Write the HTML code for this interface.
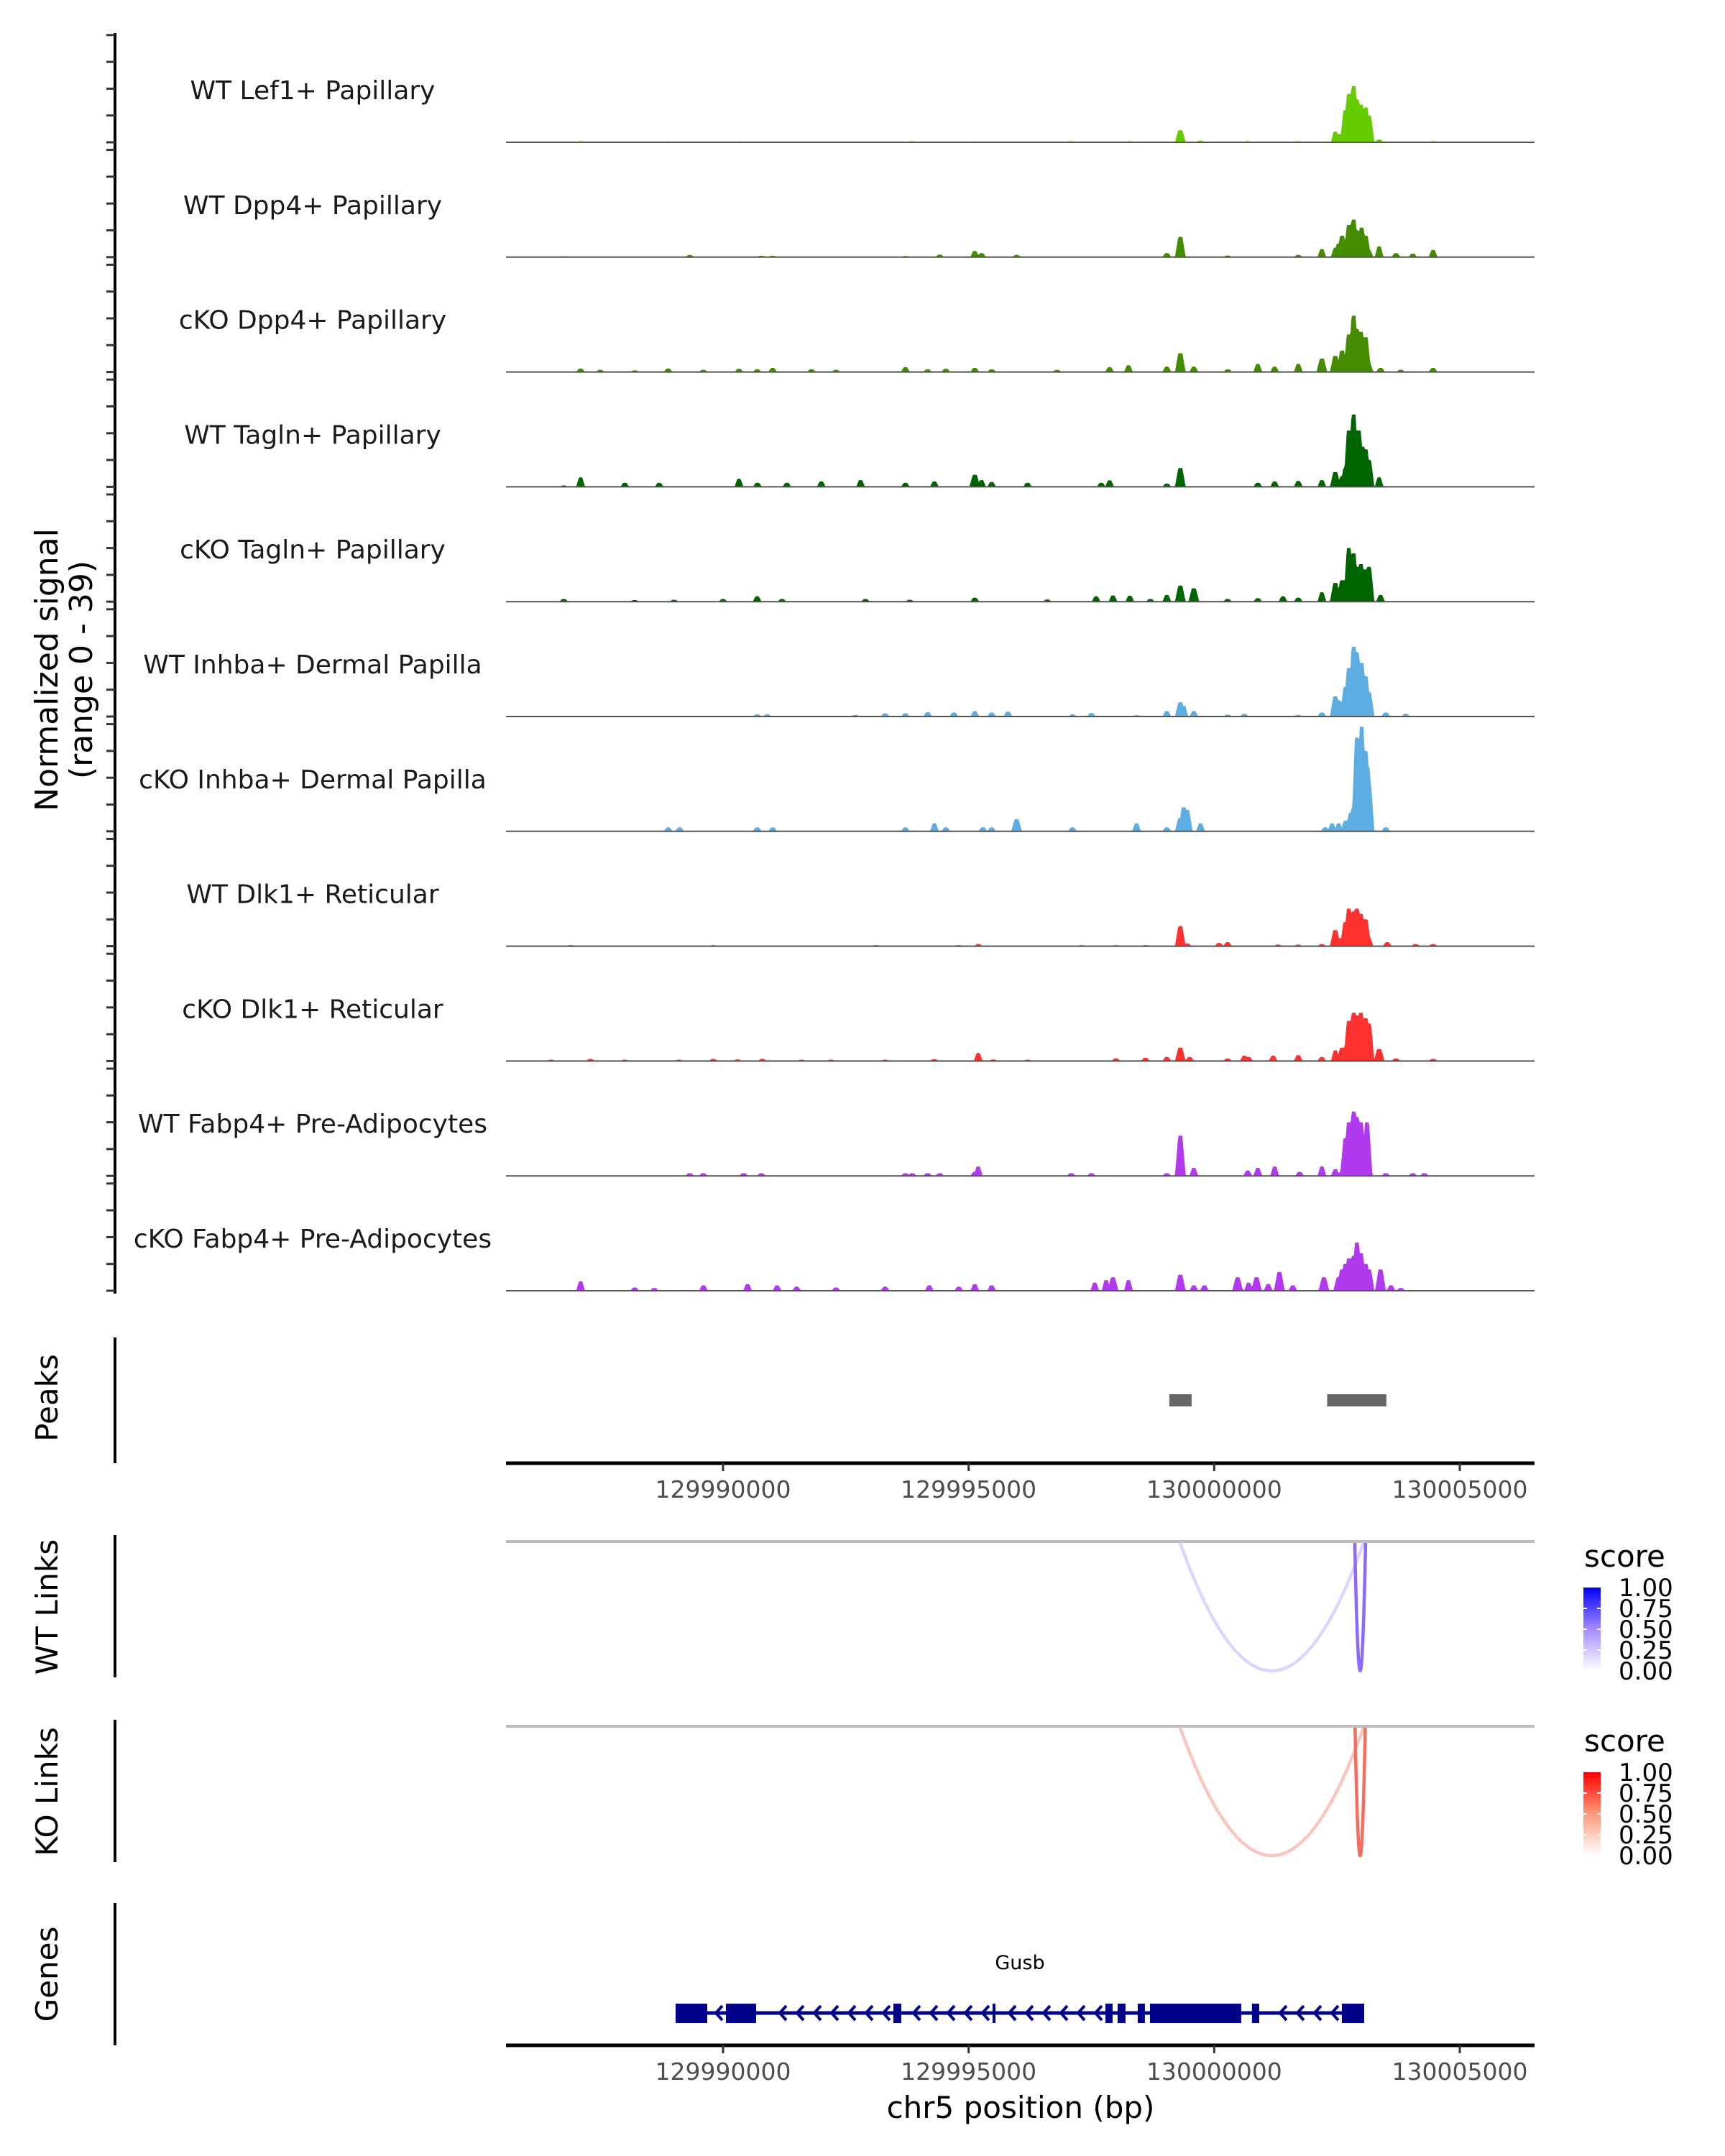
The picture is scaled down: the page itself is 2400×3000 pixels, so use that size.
<!DOCTYPE html>
<html><head><meta charset="utf-8"><style>
html,body{margin:0;padding:0;background:#fff}
svg{display:block;font-family:"DejaVu Sans","Liberation Sans",sans-serif}
</style></head><body>
<svg id="chart" width="2400" height="3000" viewBox="0 0 2400 3000" xmlns="http://www.w3.org/2000/svg">
<rect width="2400" height="3000" fill="#fff"/>
<g id="tracks"></g>
<g id="yaxis"></g>
<text transform="translate(80,932) rotate(-90)" text-anchor="middle" font-size="44" fill="#000">Normalized signal</text>
<text transform="translate(128,932) rotate(-90)" text-anchor="middle" font-size="44" fill="#000">(range 0 - 39)</text>

<g>
<line x1="160" y1="1861" x2="160" y2="2036" stroke="#000" stroke-width="4"/>
<text transform="translate(80,1945) rotate(-90)" text-anchor="middle" font-size="42">Peaks</text>
<g id="peaks"></g>
<g id="axis1"></g>
</g>

<g>
<line x1="160" y1="2136" x2="160" y2="2334" stroke="#000" stroke-width="4"/>
<text transform="translate(80,2236) rotate(-90)" text-anchor="middle" font-size="42">WT Links</text>
<line x1="704" y1="2145" x2="2135" y2="2145" stroke="#bebebe" stroke-width="4"/>
<g id="wtlinks"></g>
</g>
<g>
<line x1="160" y1="2393" x2="160" y2="2591" stroke="#000" stroke-width="4"/>
<text transform="translate(80,2493) rotate(-90)" text-anchor="middle" font-size="42">KO Links</text>
<line x1="704" y1="2402" x2="2135" y2="2402" stroke="#bebebe" stroke-width="4"/>
<g id="kolinks"></g>
</g>

<defs>
<linearGradient id="gb" x1="0" y1="1" x2="0" y2="0"><stop offset="0" stop-color="#ffffff"/><stop offset="0.5" stop-color="#a58bff"/><stop offset="1" stop-color="#0000ff"/></linearGradient>
<linearGradient id="gr" x1="0" y1="1" x2="0" y2="0"><stop offset="0" stop-color="#ffffff"/><stop offset="0.5" stop-color="#fc9a7e"/><stop offset="1" stop-color="#ff0000"/></linearGradient>
</defs>
<g id="legends"></g>

<g>
<line x1="160" y1="2648" x2="160" y2="2846" stroke="#000" stroke-width="4"/>
<text transform="translate(80,2747) rotate(-90)" text-anchor="middle" font-size="42">Genes</text>
<text x="1419" y="2740" text-anchor="middle" font-size="27" fill="#000">Gusb</text>
<g id="gene"></g>
<g id="axis2"></g>
<text x="1420" y="2947" text-anchor="middle" font-size="42" fill="#000">chr5 position (bp)</text>
</g>
</svg>
<script>
const NS="http://www.w3.org/2000/svg";
// ---- data ----
const trackNames=["WT Lef1+ Papillary","WT Dpp4+ Papillary","cKO Dpp4+ Papillary","WT Tagln+ Papillary","cKO Tagln+ Papillary","WT Inhba+ Dermal Papilla","cKO Inhba+ Dermal Papilla","WT Dlk1+ Reticular","cKO Dlk1+ Reticular","WT Fabp4+ Pre-Adipocytes","cKO Fabp4+ Pre-Adipocytes"];
const trackColors=["#66cc00","#458b00","#458b00","#006400","#006400","#5dade2","#5dade2","#ff3030","#ff3030","#b23aee","#b23aee"];
const peakPos=[
 [129987100,129988883,129990324,129993850,129995126,129997088,129998282,129999310,129999722,130000683,130001712,130002466,130002535,130002672,130002741,130002837,130002906,130002988,130003084,130003152,130003358,130004456],
 [129986757,129989322,129990777,129991010,129993713,129994413,129995126,129995263,129995977,129999036,129999310,130000271,130001712,130002192,130002466,130002535,130002603,130002741,130002837,130002906,130003001,130003084,130003152,130003358,130003700,130004044,130004456],
 [129987100,129987500,129988200,129988883,129989597,129990324,129990695,129991010,129991800,129992300,129993713,129994166,129994536,129995126,129995469,129996800,129997870,129998254,129999036,129999310,129999585,130000277,130000888,130001231,130001712,130002192,130002466,130002603,130002741,130002837,130002906,130002988,130003084,130003152,130003386,130003800,130004456],
 [129986757,129987100,129988000,129988700,129990324,129990700,129991300,129992000,129992800,129993713,129994303,129995126,129995263,129995469,129996200,129997700,129997870,129999036,129999310,130000888,130001231,130001712,130002192,130002466,130002603,130002672,130002741,130002837,130002906,130002946,130003015,130003084,130003152,130003358],
 [129986757,129988200,129989000,129990000,129990695,129991200,129992900,129993800,129995126,129996600,129997596,129997939,129998282,129998700,129999036,129999310,129999585,130000271,130000888,130001400,130001712,130002192,130002466,130002535,130002603,130002741,130002782,130002837,130002906,130002988,130003084,130003152,130003386],
 [129990695,129990900,129992700,129993300,129993713,129994166,129994700,129995126,129995469,129995800,129997115,129997500,129998419,129999036,129999310,129999379,129999585,130000271,130000614,130001712,130002192,130002466,130002535,130002672,130002741,130002837,130002906,130003001,130003084,130003152,130003495,130003900],
 [129988883,129989117,129990695,129991010,129993713,129994303,129994536,129995291,129995469,129995977,129997115,129998419,129999036,129999310,129999379,129999450,129999722,130002260,130002400,130002535,130002672,130002782,130002837,130002906,130002988,130003001,130003084,130003125,130003152,130003495],
 [129986900,129989800,129993100,129994800,129995200,129997300,129998000,129998600,129999310,129999450,130000100,130000271,130001300,130001712,130002192,130002466,130002535,130002672,130002741,130002837,130002906,130002988,130003084,130003152,130003523,130004100,130004456],
 [129986500,129987300,129988000,129989100,129989800,129990300,129990800,129991600,129992200,129993300,129994300,129995195,129995500,129996200,129998000,129998600,129999036,129999310,129999500,130000271,130000614,130000700,130001200,130001712,130002192,130002466,130002603,130002741,130002837,130002906,130002988,130003084,130003152,130003358,130003700,130004456],
 [129989322,129989597,129990420,129990777,129993713,129993850,129994166,129994413,129995126,129995195,129997088,129997500,129999036,129999310,129999585,130000683,130000888,130001231,130001739,130002192,130002466,130002603,130002672,130002741,130002837,130002906,130002988,130003111,130003152,130003495,130004044,130004277],
 [129987100,129988200,129988600,129989600,129990500,129991100,129991500,129992300,129993300,129994200,129994800,129995126,129995469,129997568,129997800,129997939,129998254,129999310,129999585,129999800,130000477,130000700,130000861,130001100,130001327,130001600,130002233,130002535,130002603,130002672,130002741,130002837,130002906,130002988,130003084,130003152,130003386,130003600,130003800]
];
const peakHeights=[
 [0.4,0.3,0.3,0.4,0.3,0.4,0.4,4.5,0.6,0.4,0.4,4,3,12,18,21,16,14,13,10,1,0.4],
 [0.3,0.8,0.5,0.5,0.4,0.9,2.3,1.5,0.8,1.5,7.5,0.6,0.8,3,3.5,5,8,12,14,10,11,8,2.5,4,1.5,1.3,2.7],
 [1.3,0.8,0.6,1.3,0.8,1.2,1,1.5,1,0.8,1.8,1,1.2,1.5,1,0.8,1.8,2.5,2,7,2,1,3,2,3,5,6,8,14,21,16,15,13,3,1.5,0.8,1.5],
 [0.5,3.5,1.5,1.5,3,1.5,1.5,2,2.5,1.5,2,4.5,2.5,1.8,1.5,1.5,2.4,1.2,7,1.5,2,2.2,2.5,5.5,4,7,21,27,20,21,15,14,10,3.5],
 [1,0.6,0.7,1,2,1,1,0.7,1.5,0.8,2,2.3,2.2,1,2.5,6,5,1,1.3,2,1.5,3.5,7,5,8,20,17,18,13,14,12,13,2.5],
 [0.8,0.8,0.6,1.2,1.2,1.6,1.5,2,1.5,1.8,0.8,1.3,0.5,2,5.3,4,2,0.7,1,0.6,1.5,7.5,6,11,18,26,24,20,15,9,1.5,1],
 [1.5,1.5,1.5,1.5,1.5,3,1.5,1.5,1.5,4.5,1.5,3,1.5,5,9,8,3,1.5,3,3,4,7,9,35,33,39,30,24,18,1.5],
 [0.4,0.4,0.4,0.4,0.8,0.4,0.4,0.4,7.5,1,1.2,1.5,0.6,0.6,0.8,6,3,9,14,13,14,12,10,3,1.5,0.8,0.8],
 [0.5,0.8,0.5,0.5,0.8,0.6,0.8,0.5,0.5,0.5,0.7,3,0.6,0.5,1,1.2,1.5,5,1.5,1,2,1.5,2,2.2,1.5,4,5,15,18,17,18,16,14,4.5,1,0.8],
 [1,1,1,1,1,1,1,1,1.5,3.5,1,1,1,15,3,2,3,3.5,1.5,3.5,2.5,2,14,20,24,22,20,20,1,1,1,1],
 [3.5,1.2,1,2,2.5,2,1.5,1.2,1.5,2,1.5,2.5,2,3,4,5,4,6,2,2,5,3,5,2.5,7,2,5,5,8,10,12,13,18,14,10,8,8,2,1]
];
const peakPosBp=[129999088,130002300];
const peakEndBp=[129999540,130003506];
const xTicks=[129990000,129995000,130000000,130005000];
const tickLabels=["129990000","129995000","130000000","130005000"];
const wtLinkStart=[129999307,130002862];
const wtLinkEnd=[130003038,130003082];
const wtLinkScore=[0.2,0.7];
const koLinkStart=[129999307,130002868];
const koLinkEnd=[130003038,130003075];
const koLinkScore=[0.3,0.75];
const exonStart=[129989034,129990059,129993468,129995487,129997785,129998033,129998443,129998692,130000769,130002599];
const exonEnd=[129989678,129990673,129993629,129995546,129997931,129998194,129998589,130000550,130000916,130003053];
const legendLabels=["1.00","0.75","0.50","0.25","0.00"];
// ---- scales ----
const X0=129985581, X1=130006522, PX0=704, PX1=2135;
const sx=b=>PX0+(b-X0)*(PX1-PX0)/(X1-X0);
const UNIT=3.73;
function mk(tag,attrs,parent){const e=document.createElementNS(NS,tag);for(const k in attrs)e.setAttribute(k,attrs[k]);parent.appendChild(e);return e;}
const G=document.getElementById('tracks');
const YA=document.getElementById('yaxis');
const axisLine=mk('line',{x1:160,y1:46,x2:160,y2:1800,stroke:'#000','stroke-width':4},YA);


trackNames.forEach((nm,i)=>{
  const base=198+159.8*i;
  const g=mk('g',{},G);
  
  
  const lab=mk('text',{x:435,y:base-60,'text-anchor':'middle','font-size':36,fill:'#1a1a1a'},g);
  lab.textContent=nm;
  
  
  const pos=peakPos[i],hs=peakHeights[i];
  let d='M'+PX0+','+base;
  for(let px=PX0;px<=PX1;px+=1){
    const bp=X0+(px-PX0)*(X1-X0)/(PX1-PX0);
    let v=0;
    for(let k=0;k<pos.length;k++){
      const w=hs[k]>4?110:90;
      const t=1-Math.abs(bp-pos[k])/w;
      if(t>0)v=Math.max(v,hs[k]*Math.min(1,t*1.6));
    }
    d+='L'+px+','+(base-v*UNIT).toFixed(1);
  }
  d+='L'+PX1+','+base+'Z';
  const p=mk('path',{d:d,fill:trackColors[i]},g);
  
  
  const bl=mk('line',{x1:PX0,y1:base,x2:PX1,y2:base,stroke:'#555','stroke-width':2},g);
  
  
  for(let k=0;k<5;k++){
    const tk=mk('line',{x1:148,y1:base-k*37.3,x2:160,y2:base-k*37.3,stroke:'#333','stroke-width':3},YA);
    
    
  }
});
const PK=document.getElementById('peaks');
peakPosBp.forEach((s,i)=>{
  const r=mk('rect',{x:sx(s),y:1940,width:sx(peakEndBp[i])-sx(s),height:17,fill:'#666'},PK);
  
  
});
function axis(id,y){
  const A=document.getElementById(id);
  const l=mk('line',{x1:PX0,y1:y,x2:PX1,y2:y,stroke:'#000','stroke-width':5},A);
  
  
  xTicks.forEach((t,i)=>{
    const tk=mk('line',{x1:sx(t),y1:y,x2:sx(t),y2:y+11,stroke:'#333','stroke-width':3},A);
    
    
    const tl=mk('text',{x:sx(t),y:y+48,'text-anchor':'middle','font-size':33,fill:'#4d4d4d'},A);
    tl.textContent=tickLabels[i];
    
    
  });
}
axis('axis1',2036);axis('axis2',2846);
function lerp(a,b,t){return Math.round(a+(b-a)*t);}
function links(id,st,en,sc,top,depth,c1){
  const L=document.getElementById(id);
  st.forEach((s,i)=>{
    const x1=sx(s),x2=sx(en[i]),cy=top+depth*2,cx=(x1+x2)/2;
    const t=sc[i];
    const col='rgb('+lerp(255,c1[0],t)+','+lerp(255,c1[1],t)+','+lerp(255,c1[2],t)+')';
    const p=mk('path',{d:`M${x1},${top} Q${cx},${cy} ${x2},${top}`,fill:'none',stroke:col,'stroke-width':4.5},L);
    
    
  });
}
links('wtlinks',wtLinkStart,wtLinkEnd,wtLinkScore,2147,178,[90,40,255]);
links('kolinks',koLinkStart,koLinkEnd,koLinkScore,2404,178,[240,60,40]);
const LG=document.getElementById('legends');
[[2180,2209,'url(#gb)','wt'],[2437,2466,'url(#gr)','ko']].forEach(([ty,by,fill,nm])=>{
  const g=mk('g',{},LG);
  
  
  const t=mk('text',{x:2204,y:ty,'font-size':42,fill:'#000'},g);t.textContent='score';
  mk('rect',{x:2203,y:by,width:24,height:116,fill:fill},g);
  legendLabels.forEach((lb,k)=>{
    const yy=by+k*29;
    if(k>0&&k<4){mk('line',{x1:2203,y1:yy,x2:2208,y2:yy,stroke:'#fff','stroke-width':2},g);mk('line',{x1:2222,y1:yy,x2:2227,y2:yy,stroke:'#fff','stroke-width':2},g);}
    const tt=mk('text',{x:2252,y:yy+12,'font-size':34,fill:'#000'},g);tt.textContent=lb;
  });
});
const GN=document.getElementById('gene');
const gy=2801;
const gl=mk('line',{x1:sx(exonStart[0]),y1:gy,x2:sx(exonEnd[exonEnd.length-1]),y2:gy,stroke:'#00008b','stroke-width':5},GN);


for(let k=0;k<exonStart.length-1;k++){
  const a=sx(exonEnd[k])+10,b=sx(exonStart[k+1])-8;
  for(let x=b-6;x>a;x-=24){
    mk('path',{d:`M${x+9},${gy-10} L${x},${gy} L${x+9},${gy+10}`,fill:'none',stroke:'#00008b','stroke-width':4},GN);
  }
}
exonStart.forEach((s,i)=>{
  const r=mk('rect',{x:sx(s),y:2788,width:Math.max(4,sx(exonEnd[i])-sx(s)),height:27,fill:'#00008b'},GN);
  
  
});
</script>
</body></html>
